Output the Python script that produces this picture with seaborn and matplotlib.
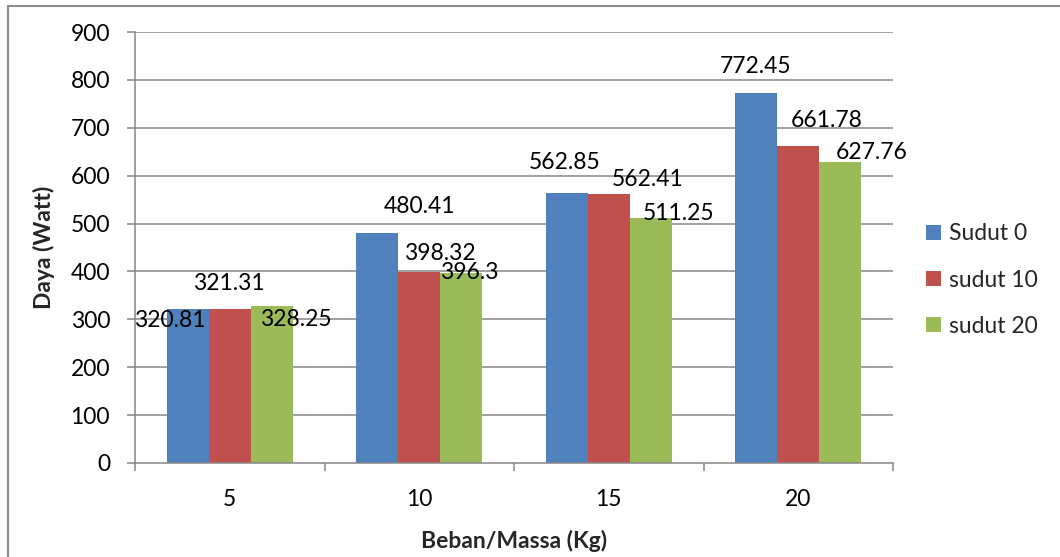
import matplotlib
matplotlib.use("Agg")
import matplotlib.pyplot as plt
from matplotlib.lines import Line2D
import seaborn as sns
import pandas as pd

# Data
loads = ["5", "10", "15", "20"]
series_names = ["Sudut 0", "sudut 10", "sudut 20"]
sudut_0 = [320.81, 480.41, 562.85, 772.45]
sudut_10 = [321.31, 398.32, 562.41, 661.78]
sudut_20 = [328.25, 396.3, 511.25, 627.76]
y_ticks = [0, 100, 200, 300, 400, 500, 600, 700, 800, 900]

palette = ["#4F81BD", "#C0504D", "#9BBB59"]

# Hand-placed label offsets (pixels, relative to the top-centre of each bar)
label_offsets = {
    "Sudut 0": [(-18, -11), (42, 26), (-2, 31), (-1, 27)],
    "sudut 10": [(-1, 26), (21, 19), (39, 14), (28, 26)],
    "sudut 20": [(24, -14), (8, 1), (28, 5), (31, 10)],
}

df = pd.DataFrame({
    "load": loads * 3,
    "series": [s for s in series_names for _ in loads],
    "power": sudut_0 + sudut_10 + sudut_20,
})

sns.set_theme(style="white")
plt.rcParams["font.family"] = ["Lato", "DejaVu Sans"]

fig = plt.figure(figsize=(10.6, 5.57), dpi=100)
ax = fig.add_axes([0.1274, 0.1688, 0.8425 - 0.1274, 0.9425 - 0.1688])

sns.barplot(data=df, x="load", y="power", hue="series", order=loads,
            hue_order=series_names, palette=palette, width=0.665, gap=0,
            saturation=1, edgecolor="none", linewidth=0, ax=ax, zorder=2)

grid_c = "#868686"
ax.set_ylim(0, 900)
ax.set_yticks(y_ticks)
ax.set_xlim(-0.5, len(loads) - 0.5)
for y in y_ticks[1:]:
    ax.axhline(y, color=grid_c, lw=1.1, zorder=1)

for side in ["top", "right"]:
    ax.spines[side].set_visible(False)
for side in ["left", "bottom"]:
    ax.spines[side].set_color(grid_c)
    ax.spines[side].set_linewidth(1.1)

fs = 16.5
ax.tick_params(axis="y", which="major", length=6, width=1.1, color=grid_c,
               direction="out", left=True, labelsize=fs, pad=12, labelcolor="black")
ax.tick_params(axis="x", which="major", length=0, labelsize=fs, pad=19, labelcolor="black")
ax.set_xticks([i + 0.5 for i in range(-1, len(loads))], minor=True)
ax.tick_params(axis="x", which="minor", length=6, width=1.1, color=grid_c,
               direction="out", bottom=True)

ax.set_xlabel("Beban/Massa (Kg)", fontsize=fs, fontweight="bold", labelpad=14)
ax.set_ylabel("Daya (Watt)", fontsize=fs, fontweight="bold", labelpad=11)

# Value labels
for container, name in zip(ax.containers, series_names):
    for bar, (dx, dy) in zip(container, label_offsets[name]):
        h = bar.get_height()
        ax.annotate(f"{h:g}", xy=(bar.get_x() + bar.get_width() / 2, h),
                    xytext=(dx, dy), textcoords="offset pixels",
                    ha="center", va="center", fontsize=fs, color="black", zorder=5)

leg = ax.legend(loc="center left", bbox_to_anchor=(0.8625, 0.497),
                bbox_transform=fig.transFigure, frameon=False, fontsize=fs,
                handlelength=0.65, handleheight=0.65, handletextpad=0.35,
                labelspacing=1.1, borderpad=0)

# Outer chart frame (top and left edges)
fig.add_artist(Line2D([8 / 1060, 1], [1 - 6 / 557, 1 - 6 / 557],
                      transform=fig.transFigure, color="#8c8c8c", lw=1.5))
fig.add_artist(Line2D([8 / 1060, 8 / 1060], [0, 1 - 6 / 557],
                      transform=fig.transFigure, color="#8c8c8c", lw=1.5))

fig.savefig("out.png", dpi=100, facecolor="white")
